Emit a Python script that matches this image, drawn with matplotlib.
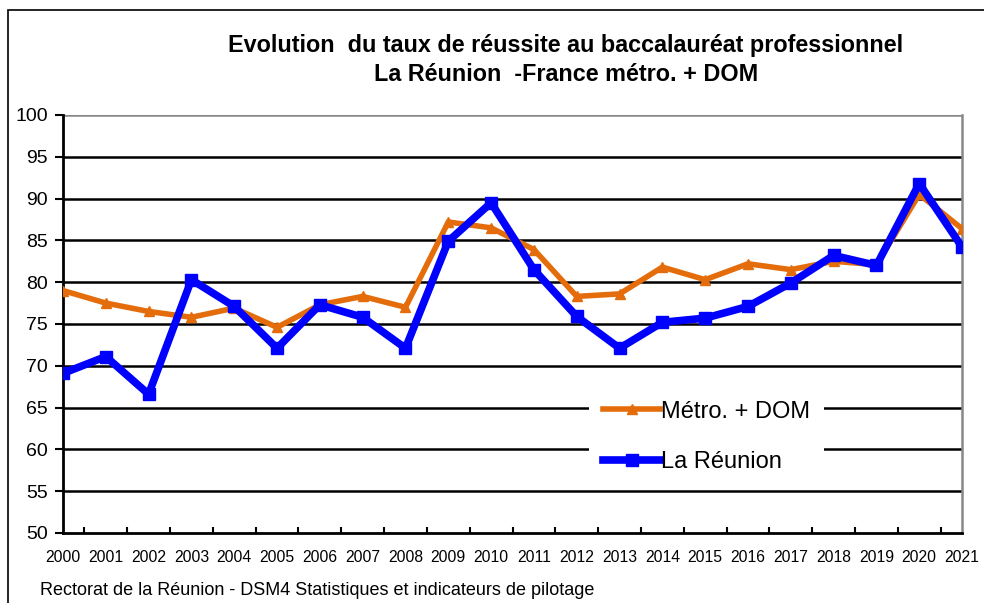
import matplotlib
matplotlib.use("Agg")
import matplotlib.pyplot as plt
from matplotlib.patches import Rectangle

years = [str(y) for y in range(2000, 2022)]
reunion = [69.1, 71.1, 66.6, 80.3, 77.1, 72.1, 77.3, 75.8, 72.1, 84.9, 89.5,
           81.5, 75.9, 72.1, 75.2, 75.7, 77.1, 79.9, 83.2, 82.0, 91.8, 84.2]
metro = [79.0, 77.5, 76.5, 75.8, 76.9, 74.6, 77.3, 78.3, 77.0, 87.2, 86.5,
         83.9, 78.3, 78.6, 81.8, 80.3, 82.2, 81.5, 82.5, 82.1, 90.5, 86.4]
yticks = list(range(50, 101, 5))

plt.rcParams['font.family'] = ['Liberation Sans', 'DejaVu Sans']

fig = plt.figure(figsize=(9.84, 6.03), dpi=100)
ax = fig.add_axes([0.064, 0.1161, 0.9137, 0.6932])

x = list(range(len(years)))
ax.plot(x, metro, color='#e46c0a', lw=4, marker='^', ms=7, label='Métro. + DOM', zorder=3)
ax.plot(x, reunion, color='#0000ff', lw=5.5, marker='s', ms=8, label='La Réunion', zorder=4)

ax.set_xlim(0, len(years) - 1)
ax.set_ylim(50, 100)
ax.set_yticks(yticks)
ax.set_yticklabels([str(v) for v in yticks], fontsize=14)
ax.set_xticks(x)
ax.set_xticklabels(years, fontsize=11.3)
ax.set_xticks([i + 0.5 for i in range(len(years) - 1)], minor=True)
ax.tick_params(axis='x', which='major', length=0, pad=12)
ax.tick_params(axis='x', which='minor', direction='in', length=4, width=1.5)
ax.tick_params(axis='y', length=6, width=1.5, pad=5)

for v in yticks[1:-1]:
    ax.axhline(v, color='black', lw=1.8, zorder=1)
ax.axhline(100, color='#888888', lw=1.8, zorder=1)

ax.spines['left'].set_linewidth(2)
ax.spines['bottom'].set_linewidth(2)
ax.spines['top'].set_visible(False)
ax.spines['right'].set_color('#888888')
ax.spines['right'].set_linewidth(1.8)

leg = ax.legend(loc='center', bbox_to_anchor=(0.716, 0.230), fontsize=17,
                frameon=True, fancybox=False, edgecolor='none', facecolor='white',
                framealpha=1, handlelength=2.4, handletextpad=0.05, labelspacing=1.2,
                borderpad=0.6, borderaxespad=0)
leg.set_zorder(5)

title_font = ['Liberation Sans Narrow', 'Liberation Sans', 'DejaVu Sans']
fig.text(0.575, 0.925, "Evolution  du taux de réussite au baccalauréat professionnel",
         ha='center', va='center', fontsize=16.8, fontweight='bold', family=title_font)
fig.text(0.575, 0.877, "La Réunion  -France métro. + DOM",
         ha='center', va='center', fontsize=16.8, fontweight='bold', family=title_font)

fig.text(0.041, 0.021, "Rectorat de la Réunion - DSM4 Statistiques et indicateurs de pilotage",
         ha='left', va='center', fontsize=13)

fig.patches.append(Rectangle((0.008, -0.01), 1.0, 0.994, transform=fig.transFigure,
                             fill=False, edgecolor='black', lw=1.2))

fig.savefig('out.png', dpi=100)
